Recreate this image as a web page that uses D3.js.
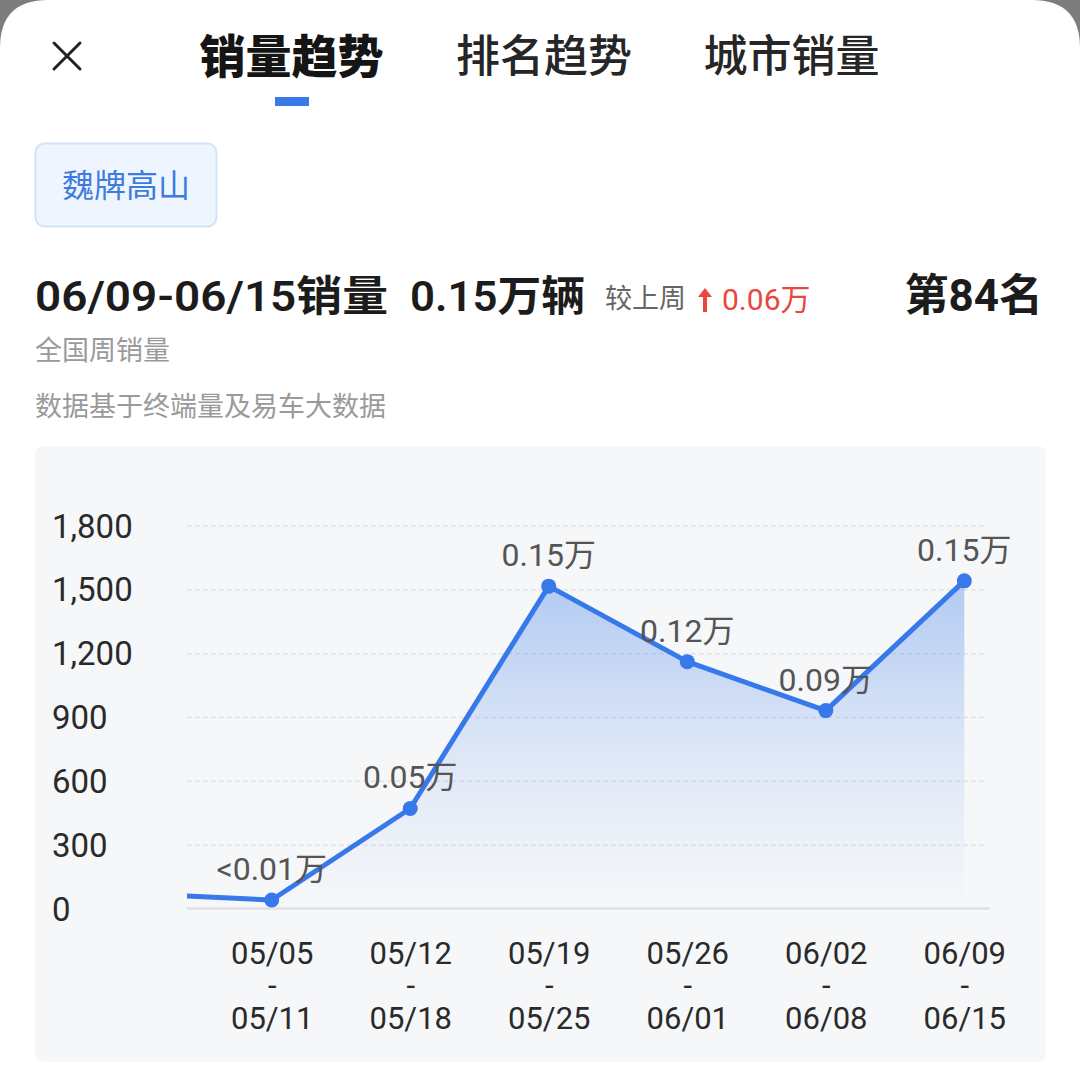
<!DOCTYPE html>
<html>
<head>
<meta charset="utf-8">
<script src="https://cdn.jsdelivr.net/npm/d3@7/dist/d3.min.js"></script>
<style>
  html, body { margin: 0; padding: 0; background: #7d7d7d; }
  svg { display: block; }
  text { font-family: Roboto, "Noto Sans CJK SC", sans-serif; }
</style>
</head>
<body>
<svg id="chart" width="1080" height="1068"></svg>
<script>
// ---- data ----
const tabs = ["销量趋势", "排名趋势", "城市销量"];
const weekStarts = ["04/28", "05/05", "05/12", "05/19", "05/26", "06/02", "06/09"];
const weekEnds   = ["05/04", "05/11", "05/18", "05/25", "06/01", "06/08", "06/15"];
const sales      = [70, 40, 470, 1515, 1160, 930, 1540];
const yTicks     = [0, 300, 600, 900, 1200, 1500, 1800];
const modelName  = "魏牌高山";
const rankText   = "第84名";

const W = 1080, H = 1068;
const svg = d3.select("#chart");

// sheet with rounded top corners
svg.append("path")
  .attr("d", `M0,48 Q0,0 48,0 L${W-48},0 Q${W},0 ${W},48 L${W},${H} L0,${H} Z`)
  .attr("fill", "#ffffff");

// close icon
const cx = 67, cy = 56, cs = 13;
svg.append("path")
  .attr("d", `M${cx-cs},${cy-cs}L${cx+cs},${cy+cs}M${cx+cs},${cy-cs}L${cx-cs},${cy+cs}`)
  .attr("stroke", "#222").attr("stroke-width", 3).attr("stroke-linecap", "round");

// tabs
const tabX = [291.5, 544, 791.5];
svg.selectAll("text.tab").data(tabs).join("text")
  .attr("class", "tab")
  .attr("x", (d, i) => tabX[i]).attr("y", 57)
  .attr("text-anchor", "middle").attr("dominant-baseline", "central")
  .attr("font-size", (d, i) => i === 0 ? 46 : 44)
  .attr("font-weight", (d, i) => i === 0 ? 900 : 500)
  .attr("fill", (d, i) => i === 0 ? "#151515" : "#262626")
  .text(d => d);
svg.append("rect").attr("x", 275).attr("y", 97).attr("width", 34).attr("height", 9)
  .attr("fill", "#3a7ae8");

// model tag
svg.append("rect").attr("x", 35.5).attr("y", 143.5).attr("width", 181).attr("height", 83)
  .attr("rx", 9).attr("fill", "#eef5fe").attr("stroke", "#d3e3f6").attr("stroke-width", 2);
svg.append("text").attr("x", 126).attr("y", 186)
  .attr("text-anchor", "middle").attr("dominant-baseline", "central")
  .attr("font-size", 32).attr("fill", "#3d7be0").text(modelName);

// headline
const lastIdx = sales.length - 1;
const fmtWan = v => v < 100 ? "<0.01万" : (v / 10000).toFixed(2) + "万";
const head = svg.append("g");
head.append("text").attr("x", 35).attr("y", 296).attr("dominant-baseline", "central")
  .attr("font-size", 42).attr("font-weight", 600).attr("fill", "#1c1c1c")
  .attr("textLength", 353).attr("lengthAdjust", "spacingAndGlyphs")
  .text(`${weekStarts[lastIdx]}-${weekEnds[lastIdx]}销量`);
head.append("text").attr("x", 410).attr("y", 296).attr("dominant-baseline", "central")
  .attr("font-size", 42).attr("font-weight", 600).attr("fill", "#1c1c1c")
  .attr("textLength", 175).attr("lengthAdjust", "spacingAndGlyphs")
  .text(fmtWan(sales[lastIdx]) + "辆");
head.append("text").attr("x", 605).attr("y", 299).attr("dominant-baseline", "central")
  .attr("font-size", 27).attr("fill", "#666").text("较上周");
// up arrow
head.append("path")
  .attr("d", "M705,288 L698,297 L703,297 L703,312 L707,312 L707,297 L712,297 Z")
  .attr("fill", "#e8473d");
head.append("text").attr("x", 722).attr("y", 299).attr("dominant-baseline", "central")
  .attr("font-size", 30).attr("fill", "#e8473d")
  .text(fmtWan(sales[lastIdx] - sales[lastIdx - 1]));
head.append("text").attr("x", 1043).attr("y", 296).attr("dominant-baseline", "central")
  .attr("text-anchor", "end")
  .attr("font-size", 44).attr("font-weight", 700).attr("fill", "#1c1c1c").text(rankText);

svg.append("text").attr("x", 35).attr("y", 351).attr("dominant-baseline", "central")
  .attr("font-size", 27).attr("fill", "#9a9a9a").text("全国周销量");
svg.append("text").attr("x", 35).attr("y", 407).attr("dominant-baseline", "central")
  .attr("font-size", 27).attr("fill", "#9a9a9a").text("数据基于终端量及易车大数据");

// chart card
svg.append("rect").attr("x", 35).attr("y", 446).attr("width", 1011).attr("height", 616)
  .attr("rx", 8).attr("fill", "#f6f7f9");

// scales
const plotL = 187, plotR = 990;
const x = d3.scalePoint().domain(weekStarts).range([133.2, 964.3]);
const y = d3.scaleLinear().domain([0, 1800]).range([908.5, 525.5]);

// grid
const grid = svg.append("g").attr("transform", `translate(${plotL},0)`)
  .call(d3.axisRight(y).tickValues(yTicks.filter(d => d > 0)).tickSize(plotR - 3 - plotL).tickFormat(""));
grid.select(".domain").remove();
grid.selectAll("line").attr("stroke", "#e2e3e6").attr("stroke-width", 1.5).attr("stroke-dasharray", "5,3");

// baseline
svg.append("line").attr("x1", plotL).attr("x2", plotR).attr("y1", y(0)).attr("y2", y(0))
  .attr("stroke", "#dfe0e3").attr("stroke-width", 2.5);

// y axis labels
const yAxis = svg.append("g").attr("transform", "translate(52,0)")
  .call(d3.axisRight(y).tickValues(yTicks).tickSize(0).tickPadding(0).tickFormat(d3.format(",")));
yAxis.select(".domain").remove();
yAxis.selectAll("text").attr("font-size", 33).attr("fill", "#2a2a2a")
  .attr("font-family", "Roboto, 'Noto Sans CJK SC', sans-serif").attr("dy", "0.35em");

// x axis labels (multi-line)
const visible = weekStarts.map((d, i) => i).filter(i => x(weekStarts[i]) >= plotL && x(weekStarts[i]) <= plotR);
const xAxis = svg.append("g").attr("transform", `translate(0,${y(0)})`)
  .call(d3.axisBottom(x).tickValues(visible.map(i => weekStarts[i])).tickSize(0).tickFormat(""));
xAxis.select(".domain").remove();
xAxis.selectAll(".tick").each(function(d) {
  const i = weekStarts.indexOf(d);
  const t = d3.select(this).append("text")
    .attr("text-anchor", "middle").attr("font-size", 31).attr("fill", "#2a2a2a")
    .attr("font-family", "Roboto, 'Noto Sans CJK SC', sans-serif");
  [weekStarts[i], "-", weekEnds[i]].forEach((s, k) => {
    t.append("tspan").attr("x", 0).attr("y", 44.5 + k * 32.5).attr("dy", "0.35em").text(s);
  });
});

// clip for the series
svg.append("defs").append("clipPath").attr("id", "plotClip")
  .append("rect").attr("x", plotL).attr("y", 440).attr("width", plotR - plotL).attr("height", 480);

const grad = svg.select("defs").append("linearGradient").attr("id", "areaGrad")
  .attr("gradientUnits", "userSpaceOnUse")
  .attr("x1", 0).attr("x2", 0).attr("y1", y(d3.max(sales))).attr("y2", y(0));
grad.append("stop").attr("offset", 0).attr("stop-color", "#3a7ae8").attr("stop-opacity", 0.36);
grad.append("stop").attr("offset", 0.55).attr("stop-color", "#3a7ae8").attr("stop-opacity", 0.12);
grad.append("stop").attr("offset", 1).attr("stop-color", "#3a7ae8").attr("stop-opacity", 0.0);

const series = svg.append("g").attr("clip-path", "url(#plotClip)");
const pts = sales.map((v, i) => ({ k: weekStarts[i], v }));

series.append("path").datum(pts.slice(1))
  .attr("fill", "url(#areaGrad)")
  .attr("d", d3.area().x(d => x(d.k)).y0(y(0)).y1(d => y(d.v)));

series.append("path").datum(pts)
  .attr("fill", "none").attr("stroke", "#3778ea").attr("stroke-width", 5)
  .attr("stroke-linejoin", "round")
  .attr("d", d3.line().x(d => x(d.k)).y(d => y(d.v)));

series.selectAll("circle").data(pts).join("circle")
  .attr("cx", d => x(d.k)).attr("cy", d => y(d.v)).attr("r", 7.5)
  .attr("fill", "#3778ea");

// value labels
svg.append("g").selectAll("text").data(pts.filter(d => x(d.k) >= plotL)).join("text")
  .attr("x", d => x(d.k)).attr("y", d => y(d.v) - 20)
  .attr("text-anchor", "middle").attr("font-size", 32).attr("fill", "#555")
  .text(d => fmtWan(d.v));
</script>
</body>
</html>
